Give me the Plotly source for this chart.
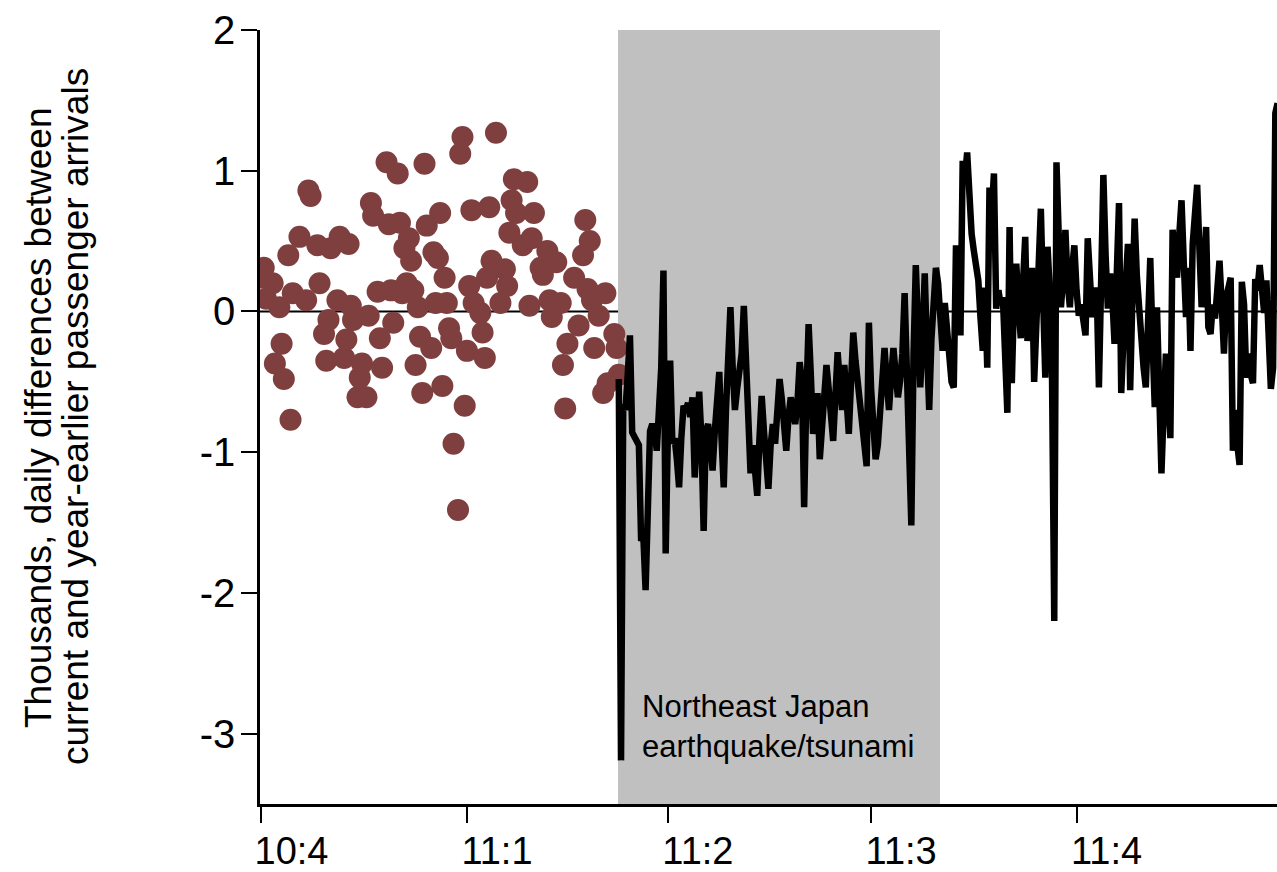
import pandas as pd
import plotly.graph_objects as go

# ---- data -------------------------------------------------------------
# Pre-earthquake daily differences (scatter): day offset from 2010-10-01, value (thousands)
pre_days = [0, 1, 2, 5, 6, 8, 9, 10, 12, 13, 14, 17, 20, 21, 22, 25, 26, 28, 29, 30,
            31, 34, 35, 37, 38, 39, 40, 41, 43, 44, 45, 47, 48, 49, 50, 52, 53, 54, 56, 57,
            58, 59, 61, 62, 63, 64, 65, 66, 67, 68, 69, 70, 71, 72, 73, 74, 76, 77, 78, 79,
            80, 81, 82, 83, 84, 85, 86, 88, 89, 90, 91, 92, 93, 94, 95, 98, 99, 100, 101, 102,
            103, 105, 107, 109, 110, 111, 112, 113, 114, 117, 119, 120, 121, 122, 125, 126, 128, 129, 130, 132,
            134, 135, 136, 137, 140, 142, 144, 145, 146, 147, 148, 149, 151, 153, 154, 155, 158, 159, 160]
pre_vals = [0.24, 0.31, 0.09, 0.20, -0.37, 0.03, -0.23, -0.48, 0.40, -0.77, 0.13, 0.53, 0.08, 0.86, 0.82, 0.47, 0.20, -0.16, -0.35, -0.06,
            0.45, 0.08, 0.53, -0.33, -0.20, 0.48, 0.04, -0.06, -0.61, -0.47, -0.37, -0.61, -0.03, 0.77, 0.68, 0.14, -0.19, -0.40, 1.06, 0.62,
            0.15, -0.08, 0.98, 0.63, 0.13, 0.45, 0.20, 0.52, 0.36, 0.15, -0.38, 0.03, -0.18, -0.58, 1.05, 0.61, -0.26, 0.42, 0.06, 0.38,
            0.70, -0.53, 0.24, 0.06, -0.12, -0.19, -0.94, -1.41, 1.12, 1.24, -0.67, -0.28, 0.18, 0.72, 0.06, -0.01, -0.15, -0.33, 0.24, 0.74,
            0.36, 1.27, 0.06, 0.30, 0.18, 0.56, 0.79, 0.94, 0.70, 0.47, 0.92, 0.04, 0.52, 0.70, 0.31, 0.26, 0.43, 0.08, -0.04, 0.35,
            0.06, -0.38, -0.69, -0.23, 0.24, -0.10, 0.40, 0.65, 0.16, 0.50, 0.08, -0.26, -0.03, -0.58, 0.13, -0.51, -0.16, -0.26, -0.45]

# Post-earthquake daily differences (line), daily from 2011-03-10
post_start = "2011-03-10"
post_vals = [
    -0.48, -3.19, -0.66, -0.70, -0.45, -0.17, -0.86, -0.89, -0.92, -0.95,
    -1.63, -1.60, -1.98, -1.30, -0.85, -0.80, -0.84, -0.99, -0.75, -0.40,
    0.29, -1.72, -0.85, -0.35, -0.94, -0.90, -1.05, -1.25, -0.90, -0.67,
    -0.70, -0.65, -0.75, -0.61, -1.18, -0.80, -0.57, -0.90, -1.56, -0.85,
    -0.80, -0.95, -1.13, -0.85, -0.60, -0.43, -0.90, -1.25, -0.70, -0.35,
    0.03, -0.40, -0.70, -0.55, -0.37, -0.30, 0.04, -0.40, -0.85, -1.15,
    -0.95, -1.10, -1.31, -0.90, -0.60, -0.85, -1.05, -1.26, -0.95, -0.80,
    -0.94, -0.75, -0.48, -0.62, -0.80, -0.99, -0.75, -0.61, -0.70, -0.80,
    -0.65, -0.36, -0.50, -1.39, -0.60, -0.09, -0.45, -0.87, -0.75, -0.58,
    -1.05, -0.80, -0.55, -0.38, -0.55, -0.75, -0.92, -0.60, -0.29, -0.50,
    -0.70, -0.38, -0.60, -0.87, -0.50, -0.15, -0.35, -0.48, -0.65, -0.80,
    -0.95, -1.10, -0.08, -0.55, -0.85, -1.05, -0.95, -0.70, -0.45, -0.26,
    -0.50, -0.70, -0.45, -0.26, -0.45, -0.61, -0.49, -0.30, 0.13, -0.40,
    -0.95, -1.52, -0.30, 0.33, -0.10, -0.54, -0.20, 0.27, -0.25, -0.70,
    -0.20, 0.15, 0.31, 0.20, -0.05, -0.28, 0.06, -0.10, -0.35, -0.50,
    -0.54, 0.47, 0.15, -0.17, 1.07, 0.95, 1.13, 0.80, 0.55, 0.43,
    0.30, 0.22, -0.05, -0.28, 0.17, -0.40, 0.88, 0.70, 0.98, 0.02,
    0.15, 0.05, 0.10, -0.30, -0.72, 0.60, -0.51, 0.10, 0.34, 0.05,
    -0.19, 0.20, 0.53, -0.21, 0.10, 0.31, -0.50, -0.10, 0.40, 0.73,
    0.10, -0.47, 0.46, 0.15, -0.45, -2.20, 1.06, 0.35, 0.03, 0.25,
    0.58, 0.20, 0.03, 0.30, 0.47, 0.15, -0.03, 0.05, -0.10, -0.17,
    0.52, 0.20, -0.04, 0.05, 0.17, -0.54, 0.30, 0.97, 0.40, 0.02,
    0.27, 0.10, -0.23, 0.20, 0.77, -0.58, -0.10, 0.20, 0.48, -0.56,
    0.10, 0.66, 0.25, 0.00, -0.28, -0.40, -0.54, 0.05, 0.38, -0.20,
    -0.68, 0.03, -0.50, -1.15, -0.70, -0.30, -0.60, -0.90, 0.58, 0.40,
    0.24, 0.55, 0.79, 0.35, -0.04, 0.31, -0.28, 0.48, 0.70, 0.90,
    0.45, 0.03, 0.25, 0.60, -0.11, -0.16, 0.05, -0.05, 0.15, 0.36,
    0.05, -0.30, 0.10, 0.18, 0.24, -0.99, -0.70, -0.95, -1.09, 0.21,
    0.05, -0.47, -0.30, -0.45, -0.51, 0.23, 0.15, 0.33, 0.20, -0.01,
    0.22, -0.10, -0.55, -0.40, 1.41, 1.48,
]

tick_dates = ["2010-10-01", "2011-01-01", "2011-04-01", "2011-07-01", "2011-10-01"]
tick_labels = ["10:4", "11:1", "11:2", "11:3", "11:4"]
y_ticks = [-3, -2, -1, 0, 1, 2]
y_labels = ["-3", "-2", "-1", "0", "1", "2"]

x_range = ["2010-09-30 08:00", "2011-12-29 18:00"]
shade_start = "2011-03-09 16:00"
shade_end = "2011-07-31 20:00"
shade_label = "Northeast Japan<br>earthquake/tsunami"
y_title_lines = ["Thousands, daily differences between",
                 "current and year-earlier passenger arrivals"]

# ---- build ------------------------------------------------------------
base = pd.Timestamp("2010-10-01")
pre_x = [base + pd.Timedelta(days=d) for d in pre_days]
post_x = pd.date_range(post_start, periods=len(post_vals), freq="D")

FONT = "Liberation Sans, Arial, sans-serif"

fig = go.Figure()
fig.add_trace(go.Scatter(
    x=pre_x, y=pre_vals, mode="markers",
    marker=dict(size=22, color="#7F3F3F", line=dict(width=0)),
    hoverinfo="skip",
))
fig.add_trace(go.Scatter(
    x=post_x, y=post_vals, mode="lines",
    line=dict(color="black", width=6.5),
    hoverinfo="skip",
))

fig.add_shape(type="rect", xref="x", yref="y",
              x0=shade_start, x1=shade_end, y0=-3.5, y1=2,
              fillcolor="#C0C0C0", line=dict(width=0), layer="below")
fig.add_shape(type="line", xref="paper", yref="y",
              x0=0, x1=1, y0=0, y1=0,
              line=dict(color="black", width=2), layer="below")

fig.add_annotation(x="2011-03-19 12:00", y=-2.95, xref="x", yref="y",
                   text=shade_label, showarrow=False, xanchor="left", yanchor="middle",
                   align="left", font=dict(family=FONT, size=31, color="black"))

for xp, line_text in zip([-0.2183, -0.1819], y_title_lines):
    fig.add_annotation(x=xp, y=0.5, xref="paper", yref="paper",
                       text=line_text, showarrow=False, textangle=-90,
                       xanchor="center", yanchor="middle",
                       font=dict(family=FONT, size=37, color="black"))

fig.update_layout(
    width=1277, height=872,
    margin=dict(l=260, r=0, t=30, b=68, autoexpand=False),
    plot_bgcolor="white", paper_bgcolor="white",
    showlegend=False,
    font=dict(family=FONT, color="black"),
)
fig.update_xaxes(
    type="date", range=x_range, automargin=False,
    tickmode="array", tickvals=tick_dates, ticktext=tick_labels,
    ticks="outside", ticklen=16, tickwidth=2, tickcolor="black",
    showline=True, linecolor="black", linewidth=2.5,
    showgrid=False, zeroline=False,
    tickfont=dict(family=FONT, size=38, color="black"),
    ticklabelshift=30, ticklabelstandoff=-4,
)
fig.update_yaxes(
    range=[-3.5, 2], automargin=False,
    tickmode="array", tickvals=y_ticks, ticktext=y_labels,
    ticks="outside", ticklen=16, tickwidth=2, tickcolor="black",
    showline=True, linecolor="black", linewidth=2.5,
    showgrid=False, zeroline=False,
    tickfont=dict(family=FONT, size=40, color="black"),
    ticklabelstandoff=-2,
)

fig.write_html(
    "out.html",
    config={"displayModeBar": False},
    post_script="document.body.style.margin='0';document.body.style.overflow='hidden';",
)
